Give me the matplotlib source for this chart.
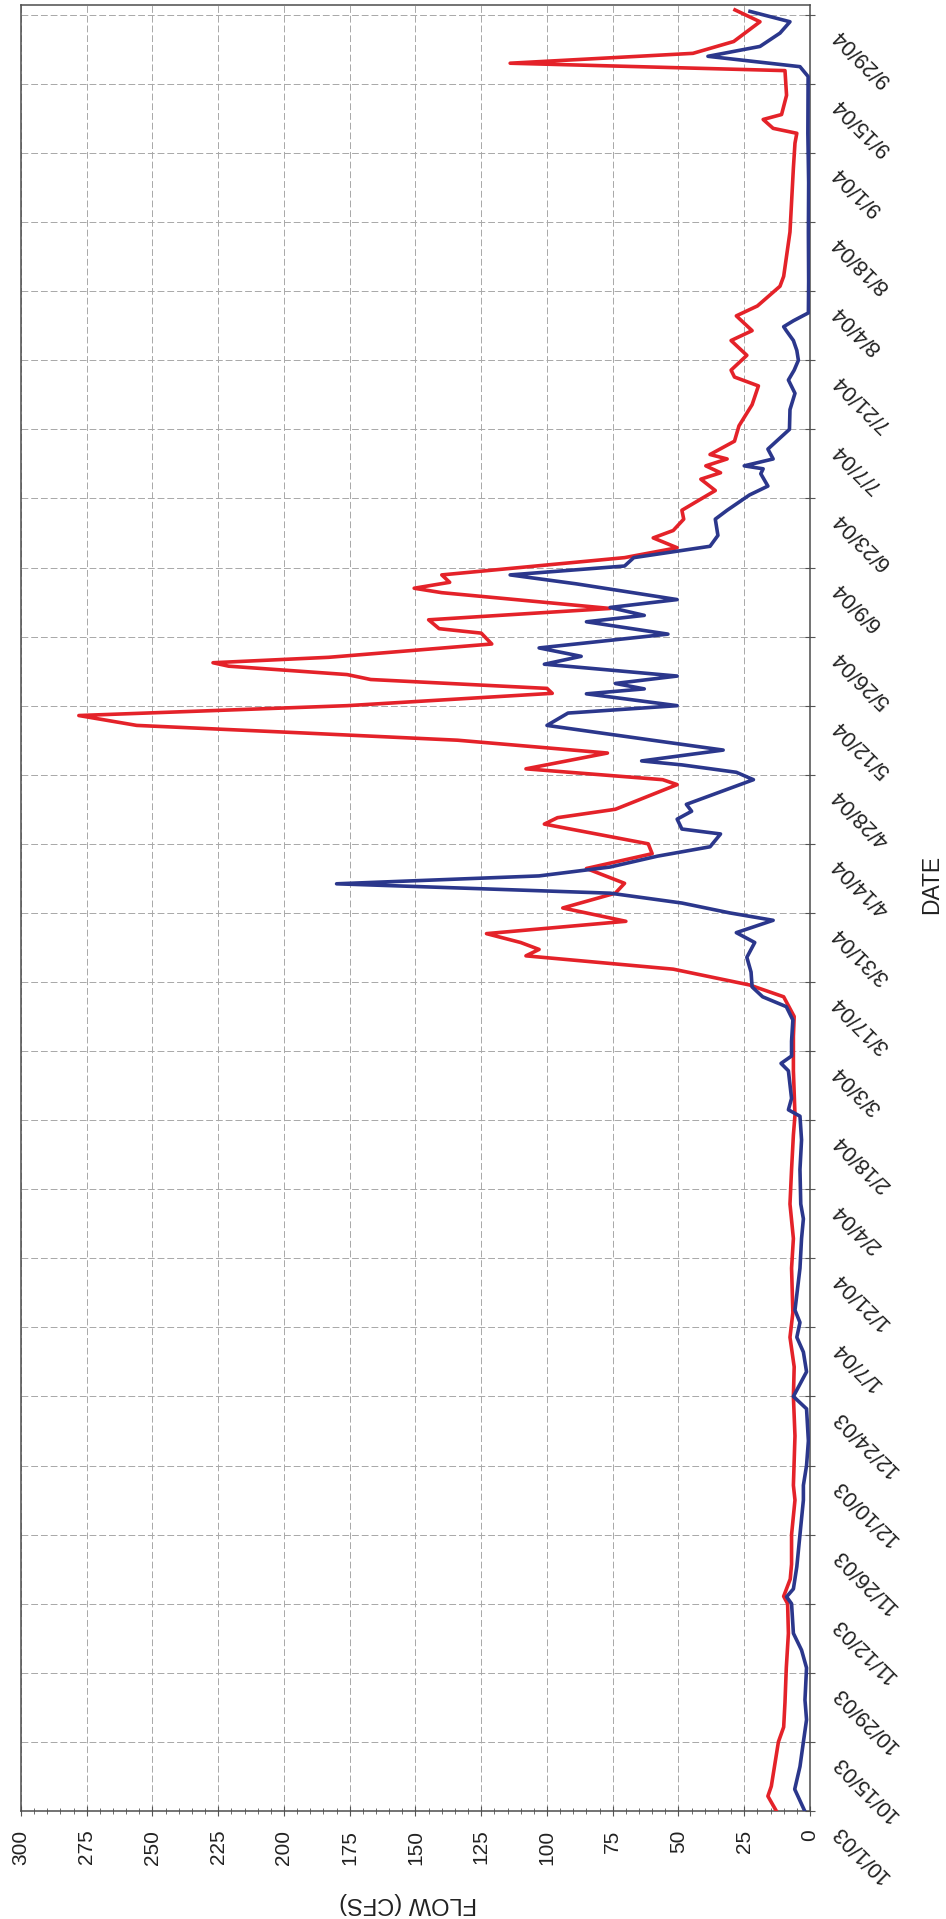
import matplotlib
matplotlib.use('Agg')
import matplotlib.pyplot as plt
import matplotlib.dates as mdates
from matplotlib.ticker import MultipleLocator
import numpy as np
import pandas as pd

plt.rcParams['font.family'] = ['Liberation Sans', 'DejaVu Sans']

# water year 2003-2004, flows in cfs, dates as days after 10/1/03
start = pd.Timestamp('2003-10-01')

red_day = [0, 3, 5, 9, 14, 17, 22, 29, 36, 42, 43.5, 47, 50, 56, 63, 66, 76, 84, 90, 96,
           101, 110, 116, 123, 130, 137, 141, 150, 157, 161, 165, 167.4, 170.6, 173.3, 174.6,
           176, 177.8, 180.3, 183, 186, 188, 191, 194, 196, 200, 201.3, 203, 208, 209, 211.2,
           214.4, 217, 218.5, 220, 222, 224, 226.5, 227.5, 229.3, 230.3, 232, 232.7, 233.8,
           236.5, 238.7, 239.6, 241.4, 243.7, 246.9, 247.8, 249, 250.5, 254, 256, 258, 259.5,
           261.8, 263.6, 265.4, 267.6, 269.9, 271.2, 272.6, 274, 274.9, 277.6, 280.7, 285,
           288.8, 290.6, 292, 295, 298, 300, 303, 305, 309, 311, 320, 333, 338, 340, 341,
           342.8, 343.8, 347.7, 352.7, 354.2, 356.2, 358.6, 362.6, 365]
red_flow = [12.8, 16, 14.7, 13.5, 12, 10, 9.5, 9, 8.2, 8.5, 10, 7.5, 7, 7, 5.7, 6.3, 5.7, 6.3, 6, 7.6,
            6.5, 7, 6.3, 7.6, 7, 6.3, 5.7, 6.3, 6.3, 6, 10, 23, 52, 108, 103,
            110, 123, 70, 94, 74, 70.5, 85, 60, 61.5, 101, 96, 74, 50.5, 56, 108,
            77, 134, 194, 256, 278, 176, 98, 100, 167, 176, 221, 227, 183,
            121, 125, 141, 145, 76, 140, 150.5, 137, 140, 70.5, 50.5, 59.6, 52,
            48, 48.7, 43, 36, 41.5, 34, 39.6, 31.5, 38, 28.7, 27, 22,
            19.6, 28.7, 30, 24, 30, 22, 28, 20, 11.4, 10, 7.6, 6.3, 5.7, 5, 14,
            17.8, 10.8, 8.9, 9.5, 114, 44.5, 29, 19, 28.5]

blue_day = [0, 4.4, 9, 13.6, 18.5, 22.5, 29, 32.6, 36, 42, 43.4, 45, 49.5, 56, 63, 66, 70, 75,
            81.5, 84, 89, 91, 93, 96, 99, 101.5, 110, 116, 120, 123, 130, 136, 140.8, 142.1,
            144.4, 150, 151.5, 153, 156, 160.3, 163, 165, 167, 170, 173, 176, 178, 180.5, 182,
            184, 186, 187.9, 189.5, 191.3, 193.5, 195.4, 198, 199, 201, 202.6, 204, 209, 210.5,
            212, 212.8, 215, 217, 220, 222.5, 224, 226.4, 227.4, 228.5, 230, 232.4, 234, 235.7,
            238.5, 241, 242.3, 243.9, 245.5, 248.7, 250.5, 252.3, 254, 256.3, 258.5, 261.8,
            263.6, 266.7, 268.5, 271, 272, 272.6, 274, 276, 280, 284, 287.3, 290, 292, 294, 296,
            298, 300, 300.8, 302, 303.6, 310, 320, 330, 340, 351.5, 353.5, 355.6, 357.6, 360.3,
            362.6, 364.7]
blue_flow = [2, 5.8, 3.8, 2.6, 1.3, 1.9, 1.3, 3.2, 6.3, 7, 8.9, 6.3, 5, 3.8, 2.5, 2.5, 1.3, 0.6,
             1.3, 6.3, 1.3, 1.9, 2.5, 5, 3.8, 5.7, 3.8, 3.2, 2.5, 3.5, 3.8, 3.2, 3.8, 8.2,
             7, 8.2, 11, 7, 7, 6.5, 9, 18, 22, 22.4, 24, 21, 28, 14, 30.5,
             48.7, 76, 180, 103, 76, 58, 38, 34, 48.7, 50.5, 45, 47, 21.5, 28,
             48.7, 64, 33, 60, 100, 92, 50.5, 85, 63, 74, 50.5, 101, 87, 103,
             54, 85, 63, 76, 50.5, 89, 114, 70.5, 67, 38, 35, 36,
             31.5, 23, 16, 18.7, 17.8, 25, 14, 16, 7.8, 7.6, 5.7, 8.2, 6, 4.4, 5,
             6.3, 9, 10, 6.3, 0.6, 0.5, 0.6, 0.5, 0.8, 0.7, 3.8, 38.8, 19, 11.4,
             7.6, 22.8]

flow_ticks = np.arange(0, 301, 25)
date_ticks = pd.date_range(start, periods=27, freq='14D')
date_labels = [f"{d.month}/{d.day}/{d:%y}" for d in date_ticks]

red_dates = mdates.date2num(start + pd.to_timedelta(red_day, unit='D'))
blue_dates = mdates.date2num(start + pd.to_timedelta(blue_day, unit='D'))

fig = plt.figure(figsize=(9.46, 19.19), dpi=100)
ax = fig.add_axes([0.0222, 0.0563, 0.8340, 0.9411])

# page is turned on its side: flow runs right-to-left, dates bottom-to-top
ax.plot(red_flow, red_dates, color='#e42229', lw=2.6, zorder=3)
ax.plot(blue_flow, blue_dates, color='#2b378c', lw=2.6, zorder=4)

ax.set_xlim(300, 0)
ax.set_ylim(mdates.date2num(start), mdates.date2num(start + pd.Timedelta(days=366)))

ax.set_xticks(flow_ticks)
ax.xaxis.set_minor_locator(MultipleLocator(5))
ax.tick_params(axis='x', which='major', direction='inout', length=7, pad=10,
               labelrotation=90, labelsize=15, color='#555555', labelcolor='#222222')
ax.tick_params(axis='x', which='minor', direction='inout', length=5, color='#555555')

ax.set_yticks(mdates.date2num(date_ticks))
ax.yaxis.tick_right()
ax.tick_params(axis='y', which='major', direction='inout', length=7, color='#555555',
               labelright=False, labelleft=False)

for d, lbl in zip(date_ticks, date_labels):
    ax.annotate(lbl, xy=(1, mdates.date2num(d)), xycoords=ax.get_yaxis_transform(),
                xytext=(26, -17), textcoords='offset pixels', rotation=135,
                rotation_mode='anchor', ha='right', va='center', fontsize=15.5, color='#222222')

ax.grid(True, which='major', color='#a8a8a8', linestyle=(0, (7, 3)), linewidth=0.7)
for s in ax.spines.values():
    s.set_color('#4d4d4d')
    s.set_linewidth(1.1)

ax.set_xlabel('FLOW (CFS)', rotation=180, fontsize=17, color='#222222')
ax.xaxis.set_label_coords(0.49, -0.045)
ax.yaxis.set_label_position('right')
ax.set_ylabel('DATE', fontsize=16.5, color='#222222')
ax.yaxis.set_label_coords(1.14, 0.513)

fig.savefig('out.png', dpi=100, facecolor='white')
